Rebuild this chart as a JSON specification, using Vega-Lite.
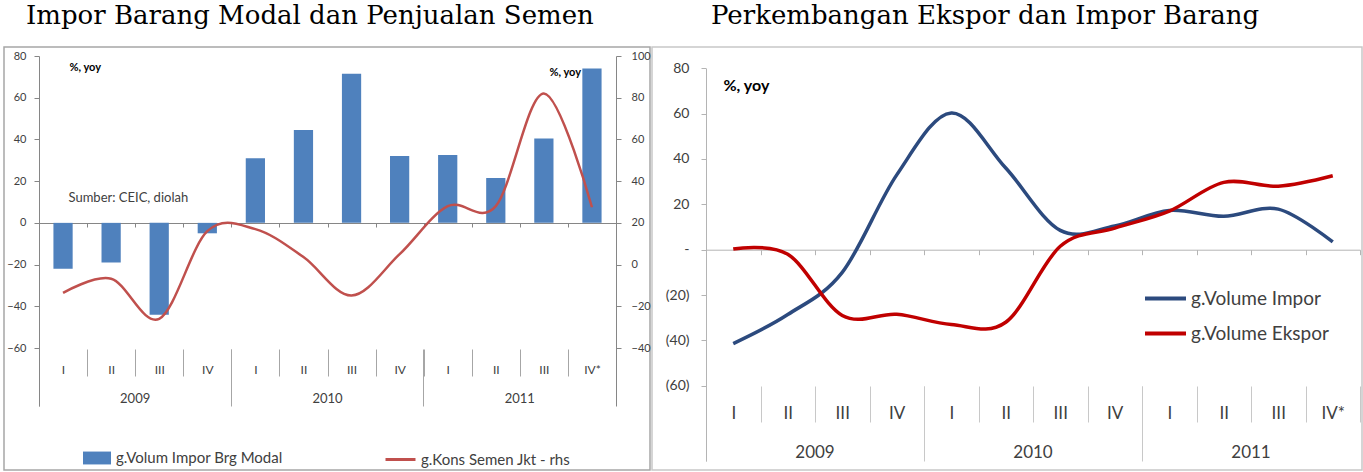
{
  "$schema": "https://vega.github.io/schema/vega-lite/v6.json",
  "padding": {"left": 3, "top": 2, "right": 0, "bottom": 0},
  "background": "#ffffff",
  "bounds": "flush",
  "spacing": 2,
  "config": {
    "font": "Lato",
    "axis": {"grid": false, "labelFont": "Lato", "titleFont": "Lato"},
    "legend": {"labelFont": "Lato", "labelLimit": 400},
    "title": {"font": "DejaVu Serif", "fontWeight": "normal", "color": "#000000"}
  },
  "datasets": {
    "left": [
      {"q": "2009-I", "impor": -22, "semen": -13.6},
      {"q": "2009-II", "impor": -19, "semen": -6.8},
      {"q": "2009-III", "impor": -44, "semen": -26},
      {"q": "2009-IV", "impor": -5, "semen": 16},
      {"q": "2010-I", "impor": 31, "semen": 17},
      {"q": "2010-II", "impor": 44.5, "semen": 3.6},
      {"q": "2010-III", "impor": 71.5, "semen": -14.8},
      {"q": "2010-IV", "impor": 32, "semen": 5},
      {"q": "2011-I", "impor": 32.5, "semen": 28},
      {"q": "2011-II", "impor": 21.5, "semen": 28},
      {"q": "2011-III", "impor": 40.5, "semen": 82},
      {"q": "2011-IV*", "impor": 74, "semen": 27.5}
    ],
    "right": [
      {"q": "2009-I", "impor": -41.4, "ekspor": 0.3},
      {"q": "2009-II", "impor": -28.6, "ekspor": -2},
      {"q": "2009-III", "impor": -10, "ekspor": -29},
      {"q": "2009-IV", "impor": 33, "ekspor": -28.5},
      {"q": "2010-I", "impor": 60.3, "ekspor": -33},
      {"q": "2010-II", "impor": 36, "ekspor": -32},
      {"q": "2010-III", "impor": 8.5, "ekspor": 1.5},
      {"q": "2010-IV", "impor": 10.5, "ekspor": 9.5},
      {"q": "2011-I", "impor": 17.3, "ekspor": 17},
      {"q": "2011-II", "impor": 14.7, "ekspor": 29.7},
      {"q": "2011-III", "impor": 17.9, "ekspor": 28},
      {"q": "2011-IV*", "impor": 3.4, "ekspor": 32.6}
    ]
  },
  "hconcat": [
    {
      "width": 646,
      "height": 423,
      "view": {"stroke": "#A6A6A6", "strokeWidth": 1.5},
      "title": {"text": "Impor Barang Modal dan Penjualan Semen", "anchor": "start", "dx": 22, "offset": -3, "baseline": "alphabetic", "fontSize": 26},
      "data": {"name": "left"},
      "layer": [
        {
          "mark": {"type": "bar", "width": {"band": 0.4}},
          "encoding": {
            "x": {"field": "q", "type": "nominal", "sort": null,
              "scale": {"type": "band", "range": [35, 612], "paddingInner": 0, "paddingOuter": 0},
              "axis": {"orient": "bottom", "offset": -247, "tickBand": "extent", "tickSize": 4, "labels": false,
                "domainColor": "#868686", "tickColor": "#868686",
                "title": "Sumber: CEIC, diolah", "titleX": 64, "titleY": -26, "titleAlign": "left", "titleBaseline": "middle",
                "titleFontSize": 13, "titleFontWeight": "normal", "titleColor": "#404040"}},
            "y": {"field": "impor", "type": "quantitative",
              "scale": {"domain": [-87.8, 80], "range": [359, 9], "nice": false, "zero": false},
              "axis": {"orient": "left", "offset": -35, "values": [-60, -40, -20, 0, 20, 40, 60, 80],
                "domainColor": "#868686", "tickColor": "#868686", "tickSize": 5,
                "labelFontSize": 11, "labelColor": "#404040", "labelPadding": 8,
                "title": "%, yoy", "titleAngle": 0, "titleX": 30, "titleY": 20, "titleAlign": "left", "titleBaseline": "middle",
                "titleFontSize": 11, "titleFontWeight": "bold", "titleColor": "#000000"}},
            "color": {"datum": "g.Volum Impor Brg Modal", "type": "nominal",
              "scale": {"domain": ["g.Volum Impor Brg Modal"], "range": ["#4F81BD"]},
              "legend": {"orient": "none", "legendX": 79, "legendY": 397, "title": null,
                "symbolType": "M-1,-0.46H1V0.46H-1Z", "symbolSize": 784, "symbolStrokeWidth": 0,
                "labelFontSize": 15, "labelColor": "#404040", "labelOffset": 5, "labelLimit": 400}}
          }
        },
        {
          "mark": {"type": "line", "interpolate": "cardinal", "tension": 0, "strokeWidth": 2.5},
          "encoding": {
            "x": {"field": "q", "type": "nominal", "sort": null,
              "scale": {"type": "band", "range": [35, 612], "paddingInner": 0, "paddingOuter": 0},
              "axis": {"orient": "bottom", "offset": -121, "domain": false, "tickBand": "extent", "tickSize": 27,
                "tickColor": "#A6A6A6", "labelExpr": "split(datum.value, '-')[1]", "labelAngle": 0,
                "labelFontSize": 12, "labelColor": "#404040", "labelPadding": -12, "title": null}},
            "y": {"field": "semen", "type": "quantitative",
              "scale": {"domain": [-67.8, 100], "range": [359, 9], "nice": false, "zero": false},
              "axis": {"orient": "right", "offset": -34, "values": [-40, -20, 0, 20, 40, 60, 80, 100],
                "domainColor": "#868686", "tickColor": "#868686", "tickSize": 5,
                "labelFontSize": 11, "labelColor": "#404040", "labelPadding": 10,
                "title": "%, yoy", "titleAngle": 0, "titleX": -67, "titleY": 25, "titleAlign": "left", "titleBaseline": "middle",
                "titleFontSize": 11, "titleFontWeight": "bold", "titleColor": "#000000"}},
            "color": {"datum": "g.Kons Semen Jkt - rhs", "type": "nominal",
              "scale": {"domain": ["g.Kons Semen Jkt - rhs"], "range": ["#C0504D"]},
              "legend": {"orient": "none", "legendX": 380, "legendY": 396, "title": null,
                "symbolType": "stroke", "symbolSize": 900, "symbolStrokeWidth": 3,
                "labelFontSize": 15, "labelColor": "#404040", "labelOffset": 4, "labelLimit": 400}}
          }
        },
        {
          "mark": {"type": "point", "opacity": 0},
          "encoding": {
            "x": {"field": "q", "type": "nominal", "sort": null,
              "scale": {"type": "band", "range": [35, 612], "paddingInner": 0, "paddingOuter": 0},
              "axis": {"orient": "bottom", "offset": -121, "domain": false, "values": ["2009-I", "2010-I", "2011-I"],
                "bandPosition": 0, "tickSize": 57, "tickColor": "#A6A6A6", "labelOffset": 72.1,
                "labelExpr": "split(datum.value, '-')[0]", "labelAngle": 0,
                "labelFontSize": 13, "labelColor": "#404040", "labelPadding": -14, "title": null}}
          }
        }
      ],
      "resolve": {"scale": {"y": "independent", "color": "independent"}, "axis": {"x": "independent"}}
    },
    {
      "width": 710,
      "height": 423,
      "view": {"stroke": "#C8C8C8", "strokeWidth": 1.5},
      "title": {"text": "Perkembangan Ekspor dan Impor Barang", "anchor": "start", "dx": 59, "offset": -3, "baseline": "alphabetic", "fontSize": 26},
      "data": {"name": "right"},
      "layer": [
        {
          "mark": {"type": "line", "interpolate": "cardinal", "tension": 0, "strokeWidth": 3.5},
          "encoding": {
            "x": {"field": "q", "type": "nominal", "sort": null,
              "scale": {"type": "band", "range": [54, 708], "paddingInner": 0, "paddingOuter": 0},
              "axis": {"orient": "bottom", "offset": -220.3, "tickBand": "extent", "tickSize": 5, "labels": false,
                "domainColor": "#B4B4B4", "tickColor": "#B4B4B4", "title": null}},
            "y": {"field": "impor", "type": "quantitative",
              "scale": {"domain": [-93.2, 80], "range": [414, 21.3], "nice": false, "zero": false},
              "axis": {"orient": "left", "offset": -54, "values": [-60, -40, -20, 0, 20, 40, 60, 80],
                "domainColor": "#B4B4B4", "tickColor": "#B4B4B4", "tickSize": 5,
                "labelExpr": "datum.value == 0 ? '-' : (datum.value < 0 ? '(' + abs(datum.value) + ')' : datum.label)",
                "labelFontSize": 14, "labelColor": "#404040", "labelPadding": 12,
                "title": "%, yoy", "titleAngle": 0, "titleX": 17, "titleY": 38, "titleAlign": "left", "titleBaseline": "middle",
                "titleFontSize": 16, "titleFontWeight": "bold", "titleColor": "#000000"}},
            "color": {"datum": "g.Volume Impor", "type": "nominal",
              "scale": {"domain": ["g.Volume Impor", "g.Volume Ekspor"], "range": ["#2C4A7E", "#C00000"]},
              "legend": {"orient": "none", "legendX": 1139, "legendY": 229, "title": null, "direction": "vertical",
                "symbolType": "stroke", "symbolSize": 1681, "symbolStrokeWidth": 4, "rowPadding": 2,
                "labelFontSize": 19, "labelColor": "#404040", "labelOffset": 3}}
          }
        },
        {
          "mark": {"type": "line", "interpolate": "cardinal", "tension": 0, "strokeWidth": 3.5},
          "encoding": {
            "x": {"field": "q", "type": "nominal", "sort": null,
              "scale": {"type": "band", "range": [54, 708], "paddingInner": 0, "paddingOuter": 0},
              "axis": {"orient": "bottom", "offset": -84, "domain": false, "tickBand": "extent", "tickSize": 36,
                "tickColor": "#C8C8C8", "labelExpr": "split(datum.value, '-')[1]", "labelAngle": 0,
                "labelFontSize": 17, "labelColor": "#404040", "labelPadding": -17, "title": null}},
            "y": {"field": "ekspor", "type": "quantitative",
              "scale": {"domain": [-93.2, 80], "range": [414, 21.3], "nice": false, "zero": false},
              "axis": {"orient": "left", "offset": -54, "values": [-60, -40, -20, 0, 20, 40, 60, 80],
                "domainColor": "#B4B4B4", "tickColor": "#B4B4B4", "tickSize": 5,
                "labelExpr": "datum.value == 0 ? '-' : (datum.value < 0 ? '(' + abs(datum.value) + ')' : datum.label)",
                "labelFontSize": 14, "labelColor": "#404040", "labelPadding": 12,
                "title": "%, yoy", "titleAngle": 0, "titleX": 17, "titleY": 38, "titleAlign": "left", "titleBaseline": "middle",
                "titleFontSize": 16, "titleFontWeight": "bold", "titleColor": "#000000"}},
            "color": {"datum": "g.Volume Ekspor", "type": "nominal",
              "scale": {"domain": ["g.Volume Impor", "g.Volume Ekspor"], "range": ["#2C4A7E", "#C00000"]}}
          }
        },
        {
          "mark": {"type": "point", "opacity": 0},
          "encoding": {
            "x": {"field": "q", "type": "nominal", "sort": null,
              "scale": {"type": "band", "range": [54, 708], "paddingInner": 0, "paddingOuter": 0},
              "axis": {"orient": "bottom", "offset": -84, "domain": false, "values": ["2009-I", "2010-I", "2011-I"],
                "bandPosition": 0, "tickSize": 75, "tickColor": "#C8C8C8", "labelOffset": 81.75,
                "labelExpr": "split(datum.value, '-')[0]", "labelAngle": 0,
                "labelFontSize": 17, "labelColor": "#404040", "labelPadding": -17, "title": null}}
          }
        }
      ],
      "resolve": {"axis": {"x": "independent"}}
    }
  ]
}
